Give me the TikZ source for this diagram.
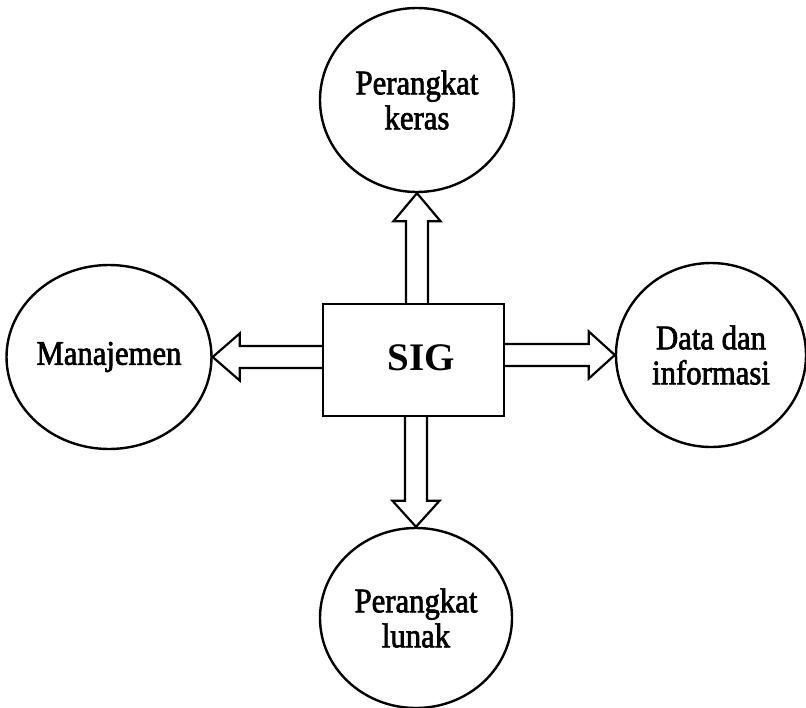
\documentclass[tikz,border=0pt]{standalone}
\usepackage{fontspec}
\setmainfont{Liberation Serif}
\newfontfamily\labelfont[FakeStretch=0.89, FakeBold=2]{Liberation Serif}
\usetikzlibrary{shapes.geometric,calc}
\tikzset{
  part/.style={ellipse, draw, line width=2.4pt, inner sep=0pt,
    align=center, font=\labelfont\fontsize{34.5}{35}\selectfont},
  core/.style={draw, line width=2.4pt, inner sep=0pt},
  blockarrow/.style={draw, line width=2.2pt, fill=white, line join=miter}
}
\begin{document}
\begin{tikzpicture}[x=1pt, y=-1pt]
  \useasboundingbox (0,0) rectangle (806,707);

  % central system box
  \node[core, minimum width=181pt, minimum height=112pt] (sig) at (413.5,360) {};
  \node[font=\fontsize{39}{42}\selectfont\bfseries] (sigtext) at (421,358) {SIG};

  % the four components
  \node[part, minimum width=194pt, minimum height=184pt] (hw) at (417,100)
    {Perangkat\\keras};
  \node[part, minimum width=204pt, minimum height=184pt] (mgmt) at (109,357)
    {Manajemen};
  \node[part, minimum width=190pt, minimum height=184pt] (data) at (711,355)
    {Data dan\\informasi};
  \node[part, minimum width=192pt, minimum height=180pt] (sw) at (416,618)
    {Perangkat\\lunak};

  % block arrows from the box to each component
  % up
  \draw[blockarrow]
    ($(hw.south |- sig.north)+(-11,0)$) -- ($(hw.south)+(-11,28)$)
    -- ($(hw.south)+(-23.5,28)$) -- (hw.south) -- ($(hw.south)+(23.5,28)$)
    -- ($(hw.south)+(11,28)$) -- ($(hw.south |- sig.north)+(11,0)$);
  % down
  \draw[blockarrow]
    ($(sw.north |- sig.south)+(-11,0)$) -- ($(sw.north)+(-11,-26)$)
    -- ($(sw.north)+(-23.5,-26)$) -- (sw.north) -- ($(sw.north)+(23.5,-26)$)
    -- ($(sw.north)+(11,-26)$) -- ($(sw.north |- sig.south)+(11,0)$);
  % left
  \draw[blockarrow]
    ($(sig.west |- mgmt.east)+(0,-11)$) -- ($(mgmt.east)+(27,-11)$)
    -- ($(mgmt.east)+(27,-23.5)$) -- (mgmt.east) -- ($(mgmt.east)+(27,23.5)$)
    -- ($(mgmt.east)+(27,11)$) -- ($(sig.west |- mgmt.east)+(0,11)$);
  % right
  \draw[blockarrow]
    ($(sig.east |- data.west)+(0,-11)$) -- ($(data.west)+(-26,-11)$)
    -- ($(data.west)+(-26,-23.5)$) -- (data.west) -- ($(data.west)+(-26,23.5)$)
    -- ($(data.west)+(-26,11)$) -- ($(sig.east |- data.west)+(0,11)$);
\end{tikzpicture}
\end{document}
